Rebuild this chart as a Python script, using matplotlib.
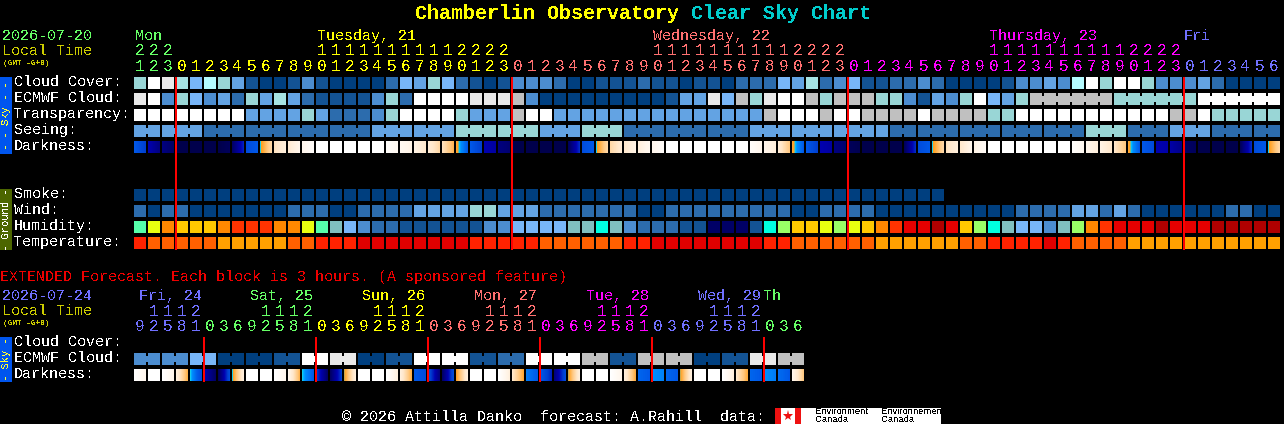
import numpy as np
import matplotlib
matplotlib.use('Agg')
import matplotlib.pyplot as plt
from matplotlib.colors import LinearSegmentedColormap

plt.rcParams['text.antialiased'] = False  # the chart has bitmap lettering

# 0-5 blues, 6 teal, 7 pale cyan, 8 white, 9 grey, 10 off white, 11 light teal
sky_colors = ['#003F7F', '#135394', '#2C6CAD', '#4C8DD0', '#63A3E3', '#78B6F8',
              '#99D6D6', '#B4FBFF', '#FFFFFF', '#C0C0C0', '#E9E9E9', '#A6E3E3']
humid_colors = ['#000066', '#135394', '#2C6CAD', '#4C8DD0', '#78B6F8', '#80BFBF',
                '#00FFE0', '#55FFAA', '#99FF66', '#E8FF10', '#FFC800', '#FF8800',
                '#FF3300', '#E60000', '#B00000']
temp_colors = ['#E00000', '#FF2200', '#FF6000', '#FFA000']

hours = [21, 22, 23] + list(range(24)) * 3 + list(range(7))
ext_hours = [9, 12, 15, 18, 21] + [0, 3, 6, 9, 12, 15, 18, 21] * 5 + [0, 3, 6]

cloud_cover = [6, 8, 10, 11, 5, 7, 6, 4, 1, 0, 0, 1, 3, 1, 0, 0, 0, 0, 2, 5, 4,
               6, 5, 2, 1, 0, 1, 3, 3, 3, 2, 0, 0, 1, 1, 1, 2, 1, 1, 0, 1, 1, 0, 2, 2, 2, 5, 4, 11, 2, 3,
               5, 1, 1, 2, 2, 3, 2, 0, 0, 0, 0, 1, 3, 3, 4, 3, 7, 8, 6, 8, 8, 6, 3, 3, 3, 4, 2, 0, 0, 0, 0]
ecmwf_cloud = [10, 8, 3, 6, 5, 3, 4, 2, 6, 4, 11, 4, 2, 1, 1, 1, 1, 3, 6, 2, 8,
               8, 8, 8, 10, 10, 10, 9, 3, 0, 0, 0, 0, 0, 0, 0, 0, 0, 1, 4, 4, 10, 5, 9, 6, 10, 8, 8, 9, 6, 9, 9,
               9, 6, 6, 3, 1, 4, 3, 6, 8, 5, 4, 6, 9, 9, 9, 9, 9, 9, 6, 6, 6, 6, 6, 6, 8, 8, 8, 8, 8, 8]
transparency = [8, 8, 8, 8, 8, 8, 8, 8, 4, 4, 4, 4, 6, 4, 2, 2, 2, 3, 6, 8, 8,
                8, 8, 6, 4, 4, 4, 9, 8, 8, 4, 4, 4, 4, 4, 4, 4, 4, 4, 4, 4, 4, 4, 4, 4, 9, 8, 8, 8, 9, 8, 8,
                9, 9, 9, 9, 8, 9, 9, 9, 9, 6, 6, 8, 8, 8, 8, 8, 8, 8, 8, 8, 8, 8, 9, 9, 8, 6, 6, 6, 6, 6]
seeing = [4, 4, 4, 4, 4, 2, 2, 2, 2, 2, 2, 2, 2, 2, 2, 2, 2, 4, 4, 4, 4, 4, 4,
          6, 6, 6, 6, 6, 6, 4, 4, 4, 6, 6, 6, 2, 2, 2, 2, 2, 2, 2, 2, 2,
          4, 4, 4, 4, 4, 4, 4, 4, 4, 4, 2, 2, 2, 2, 2, 2, 2, 2, 2, 2, 2, 2, 2, 2,
          6, 6, 6, 2, 2, 2, 4, 4, 4, 2, 2, 2, 2, 2]
dark_start = [4, 2, 1, 0, 0, 0, 0, 0.5, 3.5, 5, 6.8, 7.2, 8, 9, 9, 9, 9, 9, 8.8, 8.3, 7.8,
              7.3, 6.8, 5.3, 4, 2, 1, 0, 0, 0, 0, 0.3, 3.5, 5, 6.5, 7, 7.5, 8, 9, 9, 9, 9, 9, 9, 8.7, 8, 7.3, 5.3, 4, 2, 1, 0.3,
              0, 0, 0, 0.3, 3.5, 5, 6.8, 7, 7.8, 9, 9, 9, 9, 9, 9, 8.8, 8, 7.8, 7, 5.3, 4, 2, 1.8, 0.5, 0, 0, 0, 0.3, 3.5, 5]
dark_end = [3, 1, 0.5, 0, 0, 0, 0.3, 2.5, 4, 6.5, 7.5, 8, 8.7, 9, 9, 9, 9, 9, 8.3, 7.8, 7,
            6.5, 5.6, 4, 3, 1.7, 0.7, 0, 0, 0, 0, 2.7, 4, 6.5, 7.2, 7.8, 8.2, 8.7, 9, 9, 9, 9, 9, 9, 8, 7.5, 6, 4, 3, 1.7, 0.7, 0.1,
            0, 0, 0, 2.7, 4, 6.5, 7.5, 8, 8.5, 9, 9, 9, 9, 9, 9, 8.2, 7.5, 7, 6, 4, 3.5, 1.8, 1.2, 0.3, 0, 0, 0, 2.7, 4, 6.5]
smoke = [0] * 58
wind = [2, 0, 2, 2, 0, 0, 0, 0, 0, 0, 0, 2, 2, 2, 0, 0, 2, 2, 2, 2, 4,
        4, 4, 4, 6, 6, 4, 4, 4, 2, 2, 2, 2, 2, 2, 2, 0, 0, 2, 2, 2, 2, 2, 2, 2, 2, 2, 0, 0, 2, 2, 2,
        2, 0, 0, 0, 0, 0, 0, 0, 0, 0, 0, 2, 2, 2, 2, 4, 4, 2, 4, 2, 0, 0, 0, 0, 0, 0, 2, 2, 0, 0]
humidity = [7, 9, 11, 10, 10, 10, 11, 12, 12, 12, 11, 11, 9, 7, 5, 4, 3, 2, 2, 1, 1,
            1, 1, 1, 1, 3, 3, 4, 4, 4, 4, 5, 5, 6, 5, 3, 2, 2, 2, 1, 1, 0, 0, 0, 1, 6, 8, 10, 10, 9, 8, 9,
            10, 11, 12, 13, 13, 14, 13, 10, 8, 6, 5, 4, 4, 3, 5, 8, 11, 12, 13, 13, 13, 14, 13, 13, 13, 14, 14, 14, 14, 14]
temperature = [1, 2, 2, 2, 2, 2, 3, 3, 3, 3, 3, 2, 2, 1, 1, 1, 0, 0, 0, 0, 0,
               0, 0, 0, 1, 1, 1, 1, 1, 2, 2, 2, 2, 2, 2, 1, 1, 0, 0, 0, 0, 0, 0, 0, 0, 1, 1, 2, 2, 2, 2, 2,
               2, 3, 3, 3, 3, 3, 3, 2, 2, 1, 1, 1, 1, 0, 1, 2, 2, 2, 2, 3, 3, 3, 3, 3, 3, 3, 3, 3, 3, 3]

# extended forecast, ECMWF comes in 6 hour pairs
ext_ecmwf_pairs = [3, 3, 5, 0, 0, 1, 8, 10, 0, 1, 8, 8, 1, 2, 8, 8, 9, 1, 9, 9, 0, 1, 10, 9]
ext_dark_start = [9, 9, 9, 7.5, 5, 2, 0.3, 5, 9, 9, 9, 8, 5, 3, 0.5, 5.1, 9, 9, 9, 7.5,
                  4, 3.5, 0.5, 5.2, 9, 9, 9, 7, 4.5, 4, 1, 5.1, 9, 9, 9, 7.5, 4.2, 4.8, 4.2, 5.1,
                  9, 9, 9, 7, 4.2, 4.8, 4.3, 8]
ext_dark_end = [8, 9, 8, 5.5, 3.5, 0.5, 3.5, 7.5, 9, 9, 8, 5.6, 4, 0.5, 3, 7.5, 9, 9, 7.5, 5.5,
                3.5, 1, 3.5, 7.5, 9, 9, 7.5, 5.3, 4, 2.5, 3.5, 7.5, 9, 9, 8, 5.4, 4, 4.6, 4, 7.5,
                9, 9, 7.5, 5.4, 4, 4.5, 4, 6]

day_colors = ['#66FF66', '#FFFF00', '#FF7070', '#FF00FF', '#7070FF']
ext_day_colors = ['#7070FF', '#66FF66', '#FFFF00', '#FF7070', '#FF00FF', '#7070FF', '#66FF66']
day_labels = ['Mon', 'Tuesday, 21', 'Wednesday, 22', 'Thursday, 23', 'Fri']
ext_day_labels = ['Fri, 24', 'Sat, 25', 'Sun, 26', 'Mon, 27', 'Tue, 28', 'Wed, 29', 'Th']

# darkness colours, level -> colour
dark_stops = [(0, '#00004C'), (1, '#000080'), (2, '#0000B0'), (3, '#0040D0'), (4, '#0058E8'),
              (4.8, '#0090FF'), (5, '#00D0FF'), (5.15, '#FFA020'), (6, '#FFC880'),
              (7, '#FFE8CC'), (8, '#FFF6EC'), (9, '#FFFFFF')]
dark_cmap = LinearSegmentedColormap.from_list('dark', [(v / 9, c) for v, c in dark_stops])

MONO = 'Liberation Mono'
X0 = 134
PITCH = 14
CELL = 12


def px(size):
    return size * 0.72


def left(k):
    return X0 + PITCH * np.asarray(k)


fig = plt.figure(figsize=(12.84, 4.24), dpi=100, facecolor='black')
ax = fig.add_axes([0, 0, 1, 1])
ax.set_facecolor('black')
ax.set_autoscale_on(False)
ax.set_xlim(0, 1284)
ax.set_ylim(424, 0)
ax.axis('off')


# y is the middle of the capitals, the baseline keeps the rows level
def put(x, y, s, color='white', size=15, **kw):
    ax.text(x, y + 0.36 * size, s, color=color, fontsize=px(size), family=MONO, va='baseline', **kw)


def block(x, top, w, h, color, z=2):
    ax.bar(x, h, width=w, bottom=top, align='edge', linewidth=0, color=color, zorder=z)


def cells(values, top, palette, join=None):
    k = np.arange(len(values))
    block(left(k), top, CELL, CELL, [palette[v] for v in values])
    if join is None:
        return
    for i in k[:-1]:
        if values[i] == values[i + 1] and join(i):
            block(left(i) + CELL, top + 3, PITCH - CELL, 6, palette[values[i]])


def dark_cells(start, end, top):
    for k in range(len(start)):
        grad = np.linspace(start[k], end[k], CELL).reshape(1, -1)
        ax.imshow(grad, extent=(left(k), left(k) + CELL, top + CELL, top), cmap=dark_cmap,
                  vmin=0, vmax=9, aspect='auto', interpolation='nearest', zorder=2)


def red_lines(cols, top, bottom):
    for k in cols:
        block(left(k) - 1, top, 2, bottom - top, '#FF0000', z=4)


def hour_labels(hrs, y_tens, y_ones, colors):
    day = 0
    for k, h in enumerate(hrs):
        if h < hrs[k - 1] and k > 0:
            day += 1
        if h >= 10:
            put(left(k) + 5.5, y_tens, str(h // 10), colors[day], size=16, ha='center')
        put(left(k) + 5.5, y_ones, str(h % 10), colors[day], size=16, ha='center')


def side_bar(top, bottom, color, s, text_color):
    block(0, top, 12, bottom - top, color)
    ax.text(6, (top + bottom) / 2, s, color=text_color, fontsize=px(10.5), family=MONO,
            rotation=90, ha='center', va='center')


# title
put(415, 12, 'Chamberlin Observatory', '#FFFF00', size=20, weight='bold')
put(691, 12, 'Clear Sky Chart', '#00CCCC', size=20, weight='bold')

# header of the main chart
put(2, 35, '2026-07-20', day_colors[0])
put(2, 50, 'Local Time', '#CCCC00')
put(3, 62, '(GMT -6+0)', '#CCCC00', size=7.8, weight='bold')
for x, s, c in zip([135, 317, 653, 989, 1184], day_labels, day_colors):
    put(x, 35, s, c)
hour_labels(hours, 49.5, 65.5, day_colors)

# sky rows
for y, s in zip([81, 97, 113, 129, 145], ['Cloud Cover:', 'ECMWF Cloud:', 'Transparency:', 'Seeing:', 'Darkness:']):
    put(14, y, s)
side_bar(77, 154, '#0055EE', '- - Sky - -', '#FFFF33')
cells(cloud_cover, 77, sky_colors)
cells(ecmwf_cloud, 93, sky_colors, join=lambda i: i >= 64)
cells(transparency, 109, sky_colors)
cells(seeing, 125, sky_colors, join=lambda i: (i + 1) % 3 != 2)
dark_cells(dark_start, dark_end, 141)

# ground rows
for y, s in zip([193, 209, 225, 241], ['Smoke:', 'Wind:', 'Humidity:', 'Temperature:']):
    put(14, y, s)
side_bar(189, 250, '#4C6600', '- Ground -', '#FFFFFF')
cells(smoke, 189, sky_colors)
cells(wind, 205, sky_colors)
cells(humidity, 221, humid_colors)
cells(temperature, 237, temp_colors)
red_lines([3, 27, 51, 75], 77, 250)

# extended forecast
put(0, 276, 'EXTENDED Forecast. Each block is 3 hours. (A sponsored feature)', '#EE0000')
put(2, 295, '2026-07-24', ext_day_colors[0])
put(2, 310, 'Local Time', '#CCCC00')
put(3, 322, '(GMT -6+0)', '#CCCC00', size=7.8, weight='bold')
for x, s, c in zip([139, 250, 362, 474, 586, 698, 764], ext_day_labels, ext_day_colors):
    put(x, 295, s, c)
hour_labels(ext_hours, 310, 325, ext_day_colors)
for y, s in zip([341, 357, 373], ['Cloud Cover:', 'ECMWF Cloud:', 'Darkness:']):
    put(14, y, s)
side_bar(337, 382, '#0055EE', '- Sky -', '#FFFF33')
cells(np.repeat(ext_ecmwf_pairs, 2), 353, sky_colors, join=lambda i: i % 2 == 0)
dark_cells(ext_dark_start, ext_dark_end, 369)
red_lines([5, 13, 21, 29, 37, 45], 337, 382)

# footer with the logos
put(342, 416, '\u00a9 2026 Attilla Danko  forecast: A.Rahill  data:')
block(775, 408, 166, 16, 'white')
for x in [775, 795]:
    block(x, 408, 6, 16, '#EE1111')
ax.plot([788], [416], marker='*', markersize=8, color='#EE1111', markeredgewidth=0, zorder=3)
for x, s in zip([815, 881], ['Environment', 'Environnement']):
    ax.text(x, 412, s, color='black', fontsize=px(9.5), family='Liberation Sans', va='center', zorder=3)
    ax.text(x, 420, 'Canada', color='black', fontsize=px(9.5), family='Liberation Sans', va='center', zorder=3)

fig.savefig('out.png', dpi=100, facecolor='black')
